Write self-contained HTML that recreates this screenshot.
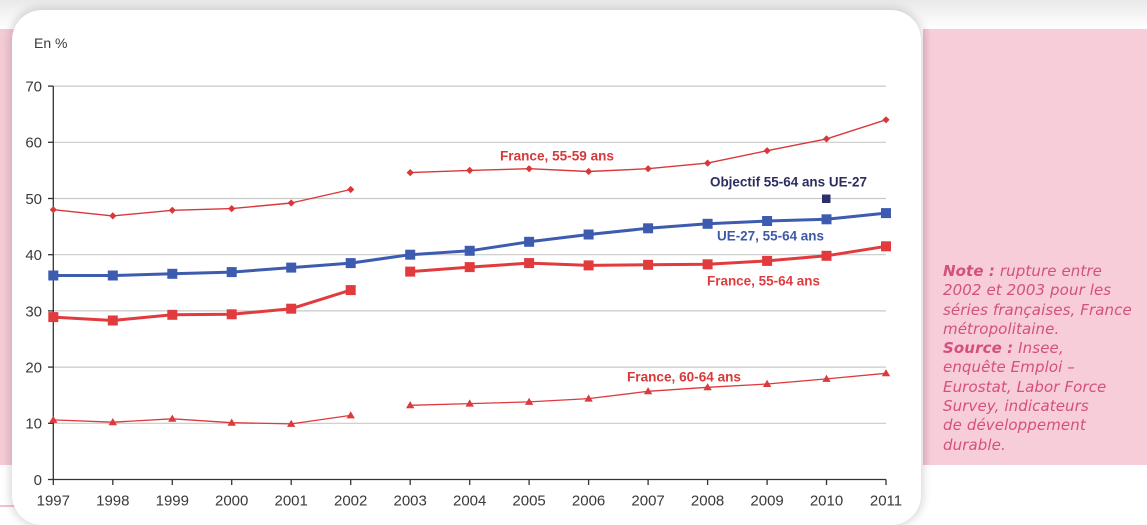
<!DOCTYPE html>
<html><head><meta charset="utf-8">
<style>
html,body{margin:0;padding:0;}
body{width:1147px;height:519px;position:relative;overflow:hidden;background:#fff;font-family:"Liberation Sans",Arial,sans-serif;}
.topshade{position:absolute;left:0;top:0;width:1147px;height:30px;background:linear-gradient(#e9e9e9,#f7f7f7 60%,#fff);}
.pinkL{position:absolute;left:0;top:29px;width:20px;height:436px;background:#f4cad4;}
.pinkLine{position:absolute;left:0;top:505px;width:20px;height:2px;background:#f1c3cf;}
.pinkR{position:absolute;left:923px;top:29px;width:224px;height:436px;background:#f7cdd9;}
.pinkR:before{content:"";position:absolute;left:0;top:0;width:8px;height:100%;background:linear-gradient(90deg,#ecbccb,#f7cdd9);}
.card{position:absolute;left:12px;top:10px;width:909px;height:515px;background:#fff;border-radius:30px;box-shadow:0 0 9px 2px rgba(0,0,0,0.16);}
.note{position:absolute;left:943px;top:262px;font-family:"DejaVu Sans",sans-serif;font-style:italic;font-size:15px;line-height:19.3px;color:#d4507e;letter-spacing:0.1px;white-space:nowrap;}
.note b{font-weight:bold;}
svg{position:absolute;left:0;top:0;}
</style></head>
<body>
<div class="topshade"></div>
<div class="pinkL"></div>
<div class="pinkLine"></div>
<div class="pinkR"></div>
<div class="card"></div>
<div class="note"><b>Note :</b> rupture entre<br>2002 et 2003 pour les<br>séries françaises, France<br>métropolitaine.<br><b>Source :</b> Insee,<br>enquête Emploi –<br>Eurostat, Labor Force<br>Survey, indicateurs<br>de développement<br>durable.</div>
<svg width="1147" height="519" viewBox="0 0 1147 519" xmlns="http://www.w3.org/2000/svg">
<defs>
<g id="sqR"><rect x="-5" y="-5" width="10" height="10" fill="#e23b3d"/></g>
<g id="sqB"><rect x="-5" y="-5" width="10" height="10" fill="#3d5cb0"/></g>
<g id="dm"><polygon points="0,-3.6 3.6,0 0,3.6 -3.6,0" fill="#d9383a"/></g>
<g id="tr"><polygon points="0,-4.2 4.2,3 -4.2,3" fill="#dd3a3e"/></g>
</defs>
<g font-family="Liberation Sans, Arial, sans-serif" fill="#3a3a3a">
<text x="34" y="48" font-size="14">En %</text>
</g>
<!-- grid -->
<g stroke="#c9c9c9" stroke-width="1.2">
<line x1="53" y1="86.1" x2="886" y2="86.1"/>
<line x1="53" y1="142.3" x2="886" y2="142.3"/>
<line x1="53" y1="198.5" x2="886" y2="198.5"/>
<line x1="53" y1="254.7" x2="886" y2="254.7"/>
<line x1="53" y1="310.9" x2="886" y2="310.9"/>
<line x1="53" y1="367.1" x2="886" y2="367.1"/>
<line x1="53" y1="423.3" x2="886" y2="423.3"/>
</g>
<!-- axes -->
<g stroke="#333" stroke-width="1.3">
<line x1="53.3" y1="86" x2="53.3" y2="480"/>
<line x1="53" y1="479.5" x2="886" y2="479.5"/>
<line x1="48" y1="86.1" x2="53" y2="86.1"/>
<line x1="48" y1="142.3" x2="53" y2="142.3"/>
<line x1="48" y1="198.5" x2="53" y2="198.5"/>
<line x1="48" y1="254.7" x2="53" y2="254.7"/>
<line x1="48" y1="310.9" x2="53" y2="310.9"/>
<line x1="48" y1="367.1" x2="53" y2="367.1"/>
<line x1="48" y1="423.3" x2="53" y2="423.3"/>
<line x1="48" y1="479.5" x2="53" y2="479.5"/>
<line x1="53.3" y1="479.5" x2="53.3" y2="485"/>
<line x1="112.8" y1="479.5" x2="112.8" y2="485"/>
<line x1="172.3" y1="479.5" x2="172.3" y2="485"/>
<line x1="231.7" y1="479.5" x2="231.7" y2="485"/>
<line x1="291.2" y1="479.5" x2="291.2" y2="485"/>
<line x1="350.7" y1="479.5" x2="350.7" y2="485"/>
<line x1="410.2" y1="479.5" x2="410.2" y2="485"/>
<line x1="469.7" y1="479.5" x2="469.7" y2="485"/>
<line x1="529.1" y1="479.5" x2="529.1" y2="485"/>
<line x1="588.6" y1="479.5" x2="588.6" y2="485"/>
<line x1="648.1" y1="479.5" x2="648.1" y2="485"/>
<line x1="707.6" y1="479.5" x2="707.6" y2="485"/>
<line x1="767.1" y1="479.5" x2="767.1" y2="485"/>
<line x1="826.5" y1="479.5" x2="826.5" y2="485"/>
<line x1="886.0" y1="479.5" x2="886.0" y2="485"/>
</g>
<g font-family="Liberation Sans, Arial, sans-serif" font-size="15" fill="#3a3a3a" text-anchor="end">
<text x="42" y="91.5">70</text>
<text x="42" y="147.7">60</text>
<text x="42" y="203.9">50</text>
<text x="42" y="260.1">40</text>
<text x="42" y="316.3">30</text>
<text x="42" y="372.5">20</text>
<text x="42" y="428.7">10</text>
<text x="42" y="484.9">0</text>
</g>
<g font-family="Liberation Sans, Arial, sans-serif" font-size="15" fill="#3a3a3a" text-anchor="middle">
<text x="53.3" y="505.5">1997</text>
<text x="112.8" y="505.5">1998</text>
<text x="172.3" y="505.5">1999</text>
<text x="231.7" y="505.5">2000</text>
<text x="291.2" y="505.5">2001</text>
<text x="350.7" y="505.5">2002</text>
<text x="410.2" y="505.5">2003</text>
<text x="469.7" y="505.5">2004</text>
<text x="529.1" y="505.5">2005</text>
<text x="588.6" y="505.5">2006</text>
<text x="648.1" y="505.5">2007</text>
<text x="707.6" y="505.5">2008</text>
<text x="767.1" y="505.5">2009</text>
<text x="826.5" y="505.5">2010</text>
<text x="886.0" y="505.5">2011</text>
</g>
<!-- series lines -->
<g fill="none" stroke-linejoin="round">
<polyline stroke="#d9383a" stroke-width="1.4" points="53.3,209.7 112.8,215.9 172.3,210.3 231.7,208.6 291.2,203.0 350.7,189.5"/>
<polyline stroke="#d9383a" stroke-width="1.4" points="410.2,172.6 469.7,170.4 529.1,168.7 588.6,171.5 648.1,168.7 707.6,163.1 767.1,150.7 826.5,138.9 886.0,119.8"/>
<polyline stroke="#3d5cb0" stroke-width="3" points="53.3,275.5 112.8,275.5 172.3,273.8 231.7,272.1 291.2,267.6 350.7,263.1 410.2,254.7 469.7,250.8 529.1,241.8 588.6,234.5 648.1,228.3 707.6,223.8 767.1,221.0 826.5,219.3 886.0,213.1"/>
<polyline stroke="#e23b3d" stroke-width="3" points="53.3,317.1 112.8,320.5 172.3,314.8 231.7,314.3 291.2,308.7 350.7,290.1"/>
<polyline stroke="#e23b3d" stroke-width="3" points="410.2,271.6 469.7,267.1 529.1,263.1 588.6,265.4 648.1,264.8 707.6,264.3 767.1,260.9 826.5,255.8 886.0,246.3"/>
<polyline stroke="#dd3a3e" stroke-width="1.3" points="53.3,419.9 112.8,422.2 172.3,418.8 231.7,422.7 291.2,423.9 350.7,415.4"/>
<polyline stroke="#dd3a3e" stroke-width="1.3" points="410.2,405.3 469.7,403.6 529.1,401.9 588.6,398.6 648.1,391.3 707.6,387.3 767.1,384.0 826.5,378.9 886.0,373.3"/>
</g>
<!-- markers 55-59 -->
<use href="#dm" x="53.3" y="209.7"/><use href="#dm" x="112.8" y="215.9"/><use href="#dm" x="172.3" y="210.3"/><use href="#dm" x="231.7" y="208.6"/><use href="#dm" x="291.2" y="203.0"/><use href="#dm" x="350.7" y="189.5"/>
<use href="#dm" x="410.2" y="172.6"/><use href="#dm" x="469.7" y="170.4"/><use href="#dm" x="529.1" y="168.7"/><use href="#dm" x="588.6" y="171.5"/><use href="#dm" x="648.1" y="168.7"/><use href="#dm" x="707.6" y="163.1"/><use href="#dm" x="767.1" y="150.7"/><use href="#dm" x="826.5" y="138.9"/><use href="#dm" x="886.0" y="119.8"/>
<!-- markers UE -->
<use href="#sqB" x="53.3" y="275.5"/><use href="#sqB" x="112.8" y="275.5"/><use href="#sqB" x="172.3" y="273.8"/><use href="#sqB" x="231.7" y="272.1"/><use href="#sqB" x="291.2" y="267.6"/><use href="#sqB" x="350.7" y="263.1"/><use href="#sqB" x="410.2" y="254.7"/><use href="#sqB" x="469.7" y="250.8"/><use href="#sqB" x="529.1" y="241.8"/><use href="#sqB" x="588.6" y="234.5"/><use href="#sqB" x="648.1" y="228.3"/><use href="#sqB" x="707.6" y="223.8"/><use href="#sqB" x="767.1" y="221.0"/><use href="#sqB" x="826.5" y="219.3"/><use href="#sqB" x="886.0" y="213.1"/>
<!-- markers 55-64 -->
<use href="#sqR" x="53.3" y="317.1"/><use href="#sqR" x="112.8" y="320.5"/><use href="#sqR" x="172.3" y="314.8"/><use href="#sqR" x="231.7" y="314.3"/><use href="#sqR" x="291.2" y="308.7"/><use href="#sqR" x="350.7" y="290.1"/>
<use href="#sqR" x="410.2" y="271.6"/><use href="#sqR" x="469.7" y="267.1"/><use href="#sqR" x="529.1" y="263.1"/><use href="#sqR" x="588.6" y="265.4"/><use href="#sqR" x="648.1" y="264.8"/><use href="#sqR" x="707.6" y="264.3"/><use href="#sqR" x="767.1" y="260.9"/><use href="#sqR" x="826.5" y="255.8"/><use href="#sqR" x="886.0" y="246.3"/>
<!-- markers 60-64 -->
<use href="#tr" x="53.3" y="419.9"/><use href="#tr" x="112.8" y="422.2"/><use href="#tr" x="172.3" y="418.8"/><use href="#tr" x="231.7" y="422.7"/><use href="#tr" x="291.2" y="423.9"/><use href="#tr" x="350.7" y="415.4"/>
<use href="#tr" x="410.2" y="405.3"/><use href="#tr" x="469.7" y="403.6"/><use href="#tr" x="529.1" y="401.9"/><use href="#tr" x="588.6" y="398.6"/><use href="#tr" x="648.1" y="391.3"/><use href="#tr" x="707.6" y="387.3"/><use href="#tr" x="767.1" y="384.0"/><use href="#tr" x="826.5" y="378.9"/><use href="#tr" x="886.0" y="373.3"/>
<!-- objective -->
<rect x="822" y="194.5" width="8.5" height="8.5" fill="#2d2f6c"/>
<!-- labels -->
<g font-family="Liberation Sans, Arial, sans-serif" font-size="13.5" font-weight="bold">
<text x="500" y="160.5" fill="#d9383a" textLength="114" lengthAdjust="spacingAndGlyphs">France, 55-59 ans</text>
<text x="710" y="186.5" fill="#2b2d60" textLength="157" lengthAdjust="spacingAndGlyphs">Objectif 55-64 ans UE-27</text>
<text x="717" y="240.5" fill="#3d5aa8" textLength="107" lengthAdjust="spacingAndGlyphs">UE-27, 55-64 ans</text>
<text x="707" y="285.5" fill="#e03c3e" textLength="113" lengthAdjust="spacingAndGlyphs">France, 55-64 ans</text>
<text x="627" y="381.5" fill="#d9383a" textLength="114" lengthAdjust="spacingAndGlyphs">France, 60-64 ans</text>
</g>
</svg>
</body></html>
